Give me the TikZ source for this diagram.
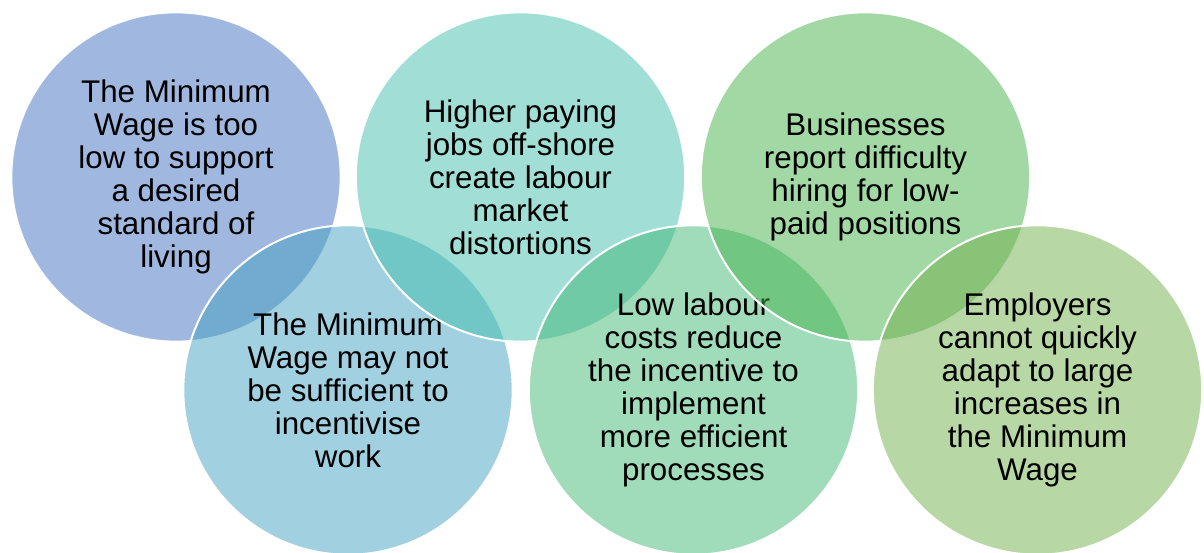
\documentclass[tikz,border=0pt]{standalone}
\usepackage{fontspec}
\setmainfont{Liberation Sans}
\begin{document}
\begin{tikzpicture}[x=0.75pt,y=-0.75pt,
  venn/.style={circle, minimum size=247pt, inner sep=0pt, draw=white, line width=1.5pt,
    fill opacity=0.5, draw opacity=1, text opacity=1, align=center,
    font=\fontsize{23.5}{24.75}\selectfont}]
\useasboundingbox (0,0) rectangle (1204,553);
\definecolor{cA}{HTML}{4171C1}
\definecolor{cB}{HTML}{43A1C1}
\definecolor{cC}{HTML}{43BFAD}
\definecolor{cD}{HTML}{41B775}
\definecolor{cE}{HTML}{45B149}
\definecolor{cF}{HTML}{6FAF4B}
\node[venn, fill=cA] (c1) at (176,177) {The Minimum\\Wage is too\\low to support\\a desired\\standard of\\living};
\node[venn, fill=cB] (c4) at (348,390) {The Minimum\\Wage may not\\be sufficient to\\incentivise\\work};
\node[venn, fill=cC] (c2) at (520.5,177) {Higher paying\\jobs off-shore\\create labour\\market\\distortions};
\node[venn, fill=cD] (c5) at (693.5,390) {Low labour\\costs reduce\\the incentive to\\implement\\more efficient\\processes};
\node[venn, fill=cE] (c3) at (865.5,177) {Businesses\\report difficulty\\hiring for low-\\paid positions};
\node[venn, fill=cF] (c6) at (1037.5,390) {Employers\\cannot quickly\\adapt to large\\increases in\\the Minimum\\Wage};
\end{tikzpicture}
\end{document}
